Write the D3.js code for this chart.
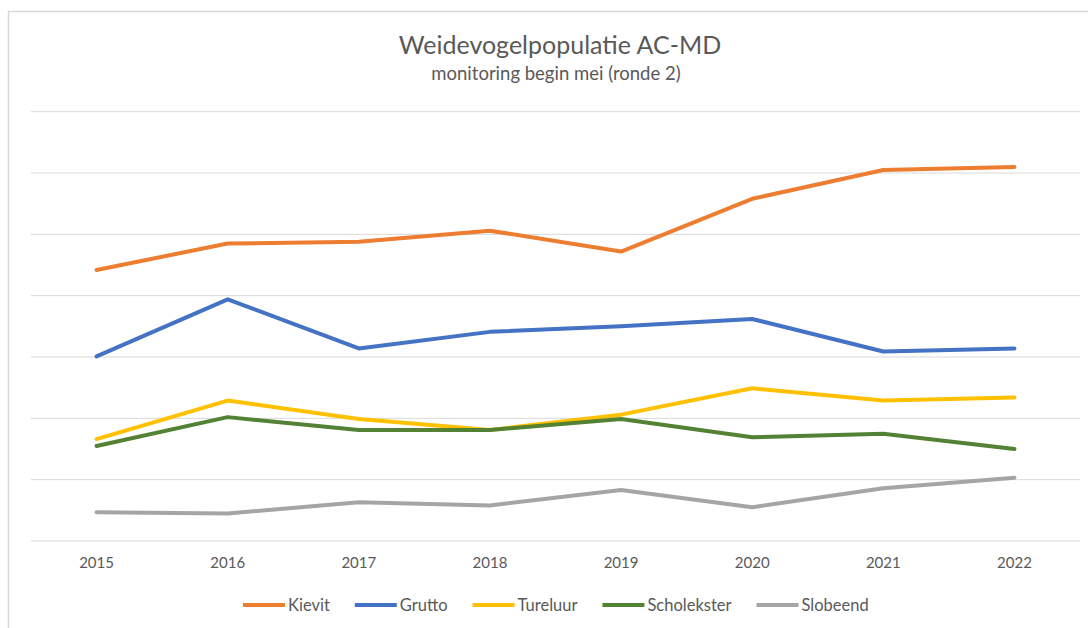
<!DOCTYPE html>
<html>
<head>
<meta charset="utf-8">
<script src="https://cdn.jsdelivr.net/npm/d3@7"></script>
<style>
  body { margin: 0; background: #fff; }
  text { font-family: Lato, "Open Sans", sans-serif; fill: #595959; }
</style>
</head>
<body>
<svg id="chart"></svg>
<script>
// waarden (geen y-as labels in origineel)
const years = ["2015", "2016", "2017", "2018", "2019", "2020", "2021", "2022"];
const kievit = [44.2, 48.5, 48.8, 50.6, 47.2, 55.8, 60.5, 61.0];
const grutto = [30.1, 39.4, 31.4, 34.1, 35.0, 36.2, 30.9, 31.4];
const tureluur = [16.6, 22.9, 19.9, 18.1, 20.6, 24.9, 22.9, 23.4];
const scholekster = [15.5, 20.2, 18.1, 18.1, 19.9, 16.9, 17.5, 15.0];
const slobeend = [4.7, 4.5, 6.3, 5.8, 8.3, 5.5, 8.6, 10.3];
const gridTicks = [0, 10, 20, 30, 40, 50, 60, 70];

const series = [
  { name: "Kievit", values: kievit, color: "#ED7D31" },
  { name: "Grutto", values: grutto, color: "#4472C4" },
  { name: "Tureluur", values: tureluur, color: "#FFC000" },
  { name: "Scholekster", values: scholekster, color: "#548235" },
  { name: "Slobeend", values: slobeend, color: "#A5A5A5" }
];

const width = 1088, height = 628;
const svg = d3.select("#chart").attr("width", width).attr("height", height);

// kader
svg.append("line").attr("x1", 8).attr("x2", width).attr("y1", 11.5).attr("y2", 11.5)
  .attr("stroke", "#d9d9d9").attr("stroke-width", 1.5);
svg.append("line").attr("x1", 8.5).attr("x2", 8.5).attr("y1", 11).attr("y2", height)
  .attr("stroke", "#d9d9d9").attr("stroke-width", 1.5);

const x = d3.scaleBand().domain(years).range([31, 1080]).padding(0);
const y = d3.scaleLinear().domain([0, 70]).range([541, 111.7]);

svg.append("g")
  .selectAll("line")
  .data(gridTicks)
  .join("line")
  .attr("x1", 31).attr("x2", 1080)
  .attr("y1", d => y(d)).attr("y2", d => y(d))
  .attr("stroke", "#d9d9d9").attr("stroke-width", 1);

const xAxis = svg.append("g")
  .attr("transform", `translate(0,${y(0)})`)
  .call(d3.axisBottom(x).tickSize(0).tickPadding(16));
xAxis.select(".domain").remove();
xAxis.selectAll("text")
  .style("font-family", "Lato, sans-serif")
  .style("font-size", "15px")
  .attr("fill", "#595959");

const line = d3.line()
  .x((d, i) => x(years[i]) + x.bandwidth() / 2)
  .y(d => y(d));

svg.append("g")
  .selectAll("path")
  .data(series)
  .join("path")
  .attr("d", d => line(d.values))
  .attr("fill", "none")
  .attr("stroke", d => d.color)
  .attr("stroke-width", 4)
  .attr("stroke-linejoin", "round")
  .attr("stroke-linecap", "round");

// titel
svg.append("text")
  .attr("x", 560).attr("y", 54)
  .attr("text-anchor", "middle")
  .style("font-size", "25px")
  .text("Weidevogelpopulatie AC-MD");
svg.append("text")
  .attr("x", 556).attr("y", 80)
  .attr("text-anchor", "middle")
  .style("font-size", "18.5px")
  .text("monitoring begin mei (ronde 2)");

// legenda
const legend = svg.append("g").attr("transform", "translate(0,605)");
let lx = 243;
series.forEach(s => {
  legend.append("line")
    .attr("x1", lx).attr("x2", lx + 42)
    .attr("y1", 0).attr("y2", 0)
    .attr("stroke", s.color).attr("stroke-width", 4);
  const t = legend.append("text")
    .attr("x", lx + 45).attr("y", 6)
    .style("font-size", "16.5px")
    .text(s.name);
  lx += 45 + t.node().getComputedTextLength() + 25;
});
</script>
</body>
</html>
